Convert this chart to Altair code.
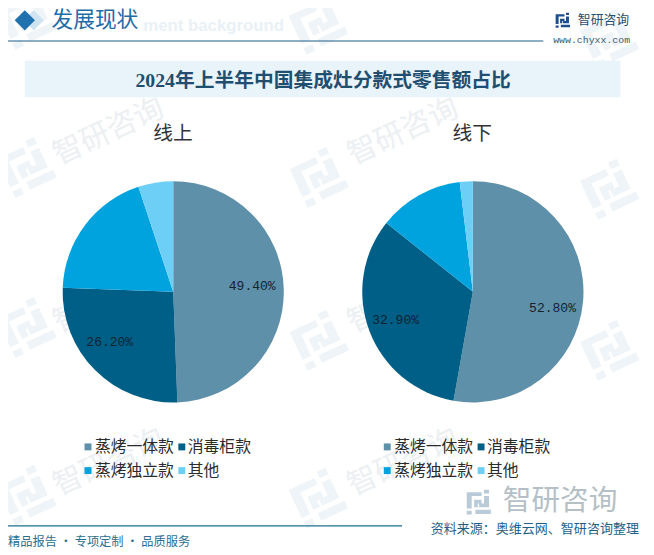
import altair as alt
import pandas as pd

categories = ["蒸烤一体款", "消毒柜款", "蒸烤独立款", "其他"]
online_values = [49.4, 26.2, 19.3, 5.1]
online_labels = ["49.40%", "26.20%", "", ""]
offline_values = [52.8, 32.9, 12.4, 1.9]
offline_labels = ["52.80%", "32.90%", "", ""]
colors = ["#5f90a9", "#005f87", "#00a3dd", "#6dcff6"]

SERIF = "Liberation Serif, Noto Sans CJK SC"
SANS = "Noto Sans CJK SC"
ONE = alt.InlineData(values=[{"k": 1}])
OX, OY = 8, 8


def text(s, x, y, size, color="#333333", align="left", font=SANS, weight="normal", angle=0, opacity=1.0):
    return alt.Chart(ONE).mark_text(
        text=s, fontSize=size, color=color, align=align, baseline="middle",
        font=font, fontWeight=weight, angle=angle, opacity=opacity,
    ).encode(x=alt.value(x - OX), y=alt.value(y - OY))


def rule(x1, x2, y, color, w=1.2):
    return alt.Chart(ONE).mark_rule(color=color, strokeWidth=w).encode(
        x=alt.value(x1 - OX), x2=alt.value(x2 - OX), y=alt.value(y - OY))


def box(x1, x2, y1, y2, color):
    return alt.Chart(ONE).mark_rect(color=color).encode(
        x=alt.value(x1 - OX), x2=alt.value(x2 - OX), y=alt.value(y1 - OY), y2=alt.value(y2 - OY))


LOGO = ("M-1,-0.8H0.2V-0.5H-0.6V0.5H-1Z M-1,0.7H-0.6V1H-1Z "
        "M-0.4,-0.2H0.2V0.1H-0.1V0.4H-0.4Z "
        "M0.4,-1H0.8V-0.7H0.4Z M0.4,-0.5H0.8V0.4H0V0.1H0.4Z "
        "M-0.3,0.6H0.95V0.95H-0.3Z")


def logo(x, y, size, color, angle=0, opacity=1.0):
    return alt.Chart(ONE).mark_point(
        shape=LOGO, size=size, filled=True, color=color, opacity=opacity, angle=angle, strokeWidth=0,
    ).encode(x=alt.value(x - OX), y=alt.value(y - OY))


def pie(values, labels, cx, cy, r, dxs=(0, 0), dys=(0, 0)):
    df = pd.DataFrame({"cat": categories, "value": values, "label": labels, "idx": range(4)})
    base = alt.Chart(df).encode(
        theta=alt.Theta("value:Q", stack=True, scale=alt.Scale(domain=[0, 100])),
        order=alt.Order("idx:Q"),
        x=alt.value(cx - OX), y=alt.value(cy - OY),
    )
    arcs = base.mark_arc(radius=r).encode(
        color=alt.Color("cat:N", scale=alt.Scale(domain=categories, range=colors), legend=None))
    out = [arcs]
    for i in range(2):
        out.append(base.mark_text(
            radius=80, fontSize=13.2, font="Liberation Mono", color="#14232e", dx=dxs[i], dy=dys[i],
        ).encode(text=alt.condition(alt.datum.idx == i, "label:N", alt.value(""))))
    return out


def legend(x1, x2, x1t, x2t):
    out = []
    spots = [(x1, x1t, 449), (x2, x2t, 449), (x1, x1t, 473), (x2, x2t, 473)]
    for (sx, tx, y), name, c in zip(spots, categories, colors):
        out.append(alt.Chart(ONE).mark_point(shape="square", filled=True, color=c, size=49, opacity=1)
                   .encode(x=alt.value(sx - OX), y=alt.value(y - OY)))
        out.append(text(name, tx, y, 16, "#2b2b2b"))
    return out


layers = []

# watermark
for (lx, ly) in [(27, 15), (322, 20), (617, 35), (27, 165), (323, 175), (617, 187),
                 (27, 327), (323, 340), (617, 350), (27, 497), (322, 500)]:
    layers.append(logo(lx, ly, 2300, "#e3edf4", angle=335, opacity=0.6))
for (tx, ty) in [(110, 130), (408, 130), (110, 300), (408, 300), (110, 465), (408, 465)]:
    layers.append(text("智研咨询", tx, ty, 30, "#e4eaee", align="center", angle=335, opacity=0.7))

# header
layers.append(text("ment background", 145, 23, 17, "#e9f1f6", font="Liberation Sans", weight="bold"))
layers.append(alt.Chart(ONE).mark_point(shape="diamond", filled=True, color="#cfe3f0", size=420, opacity=1)
              .encode(x=alt.value(34 - OX), y=alt.value(17 - OY)))
layers.append(alt.Chart(ONE).mark_point(shape="diamond", filled=True, color="#1f72ad", size=420, opacity=1)
              .encode(x=alt.value(25 - OX), y=alt.value(17 - OY)))
layers.append(text("发展现状", 52, 17, 22, "#1f6ca6", font=SERIF))
layers.append(rule(5, 550, 38, "#1f5f86"))
layers.append(logo(570, 17, 225, "#1f4e8c"))
layers.append(text("智研咨询", 585, 17, 13, "#1f4e6e"))
layers.append(text("www.chyxx.com", 560, 37, 10, "#3a5a70", font="Liberation Mono"))

# title band
layers.append(box(25, 628, 58, 95, "#e8f3fa"))
layers.append(text("2024年上半年中国集成灶分款式零售额占比", 327, 79, 20, "#1f4e6e", align="center", font=SERIF, weight="bold"))

# pies
layers.append(text("线上", 175, 132, 20, "#333333", align="center"))
layers.append(text("线下", 478, 132, 20, "#333333", align="center"))
layers += pie(online_values, online_labels, 175.3, 292, 112, dxs=(0, -7.7), dys=(-4.5, -5.6))
layers += pie(offline_values, offline_labels, 478.7, 292, 112, dxs=(1, -3.4), dys=(9, 0))

# legends
layers += legend(89, 184, 96, 190)
layers += legend(392, 487, 399, 493)

# footer
layers.append(logo(485, 505, 625, "#b9cbd8"))
layers.append(text("智研咨询", 509, 504, 29, "#b5bfc6"))
layers.append(rule(5, 407, 529, "#1f6f93"))
layers.append(text("精品报告 · 专项定制 · 品质服务", 8, 545, 12.4, "#2a6f8f"))
layers.append(text("资料来源：奥维云网、智研咨询整理", 436, 532, 13.2, "#1f5f86"))

chart = alt.layer(*layers).resolve_scale(color="shared").properties(
    width=646, height=545, padding=0, background="white",
    autosize=alt.AutoSizeParams(type="none"),
).configure_view(stroke=None)

chart.save("out.html", embed_options={"renderer": "svg", "actions": False})
